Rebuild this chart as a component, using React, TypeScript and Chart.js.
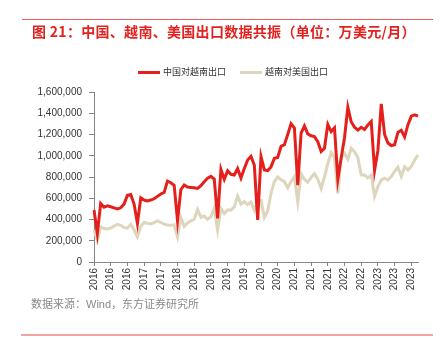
import React, { useEffect, useRef } from "react";
import { Chart, registerables } from "chart.js";

Chart.register(...registerables);

// ---- data (万美元/月), monthly from 2016-01 ----
const START_YEAR = 2016;
const MONTH_COUNT = 98;
const months: string[] = Array.from(
  { length: MONTH_COUNT },
  (_, i) => `${START_YEAR + Math.floor(i / 12)}-${String((i % 12) + 1).padStart(2, "0")}`
);

const seriesNames = ["中国对越南出口", "越南对美国出口"];

const chinaToVietnam = [
  490000, 268000, 551000, 515000, 528000, 520000, 510000, 500000, 510000, 545000, 628000, 636000,
  545000, 363000, 604000, 583000, 575000, 583000, 595000, 618000, 640000, 655000, 762000, 746000,
  722000, 390000, 680000, 725000, 706000, 702000, 698000, 693000, 718000, 756000, 788000, 806000,
  780000, 410000, 872000, 778000, 858000, 825000, 819000, 880000, 790000, 880000, 960000, 995000,
  910000, 396000, 992000, 866000, 860000, 895000, 977000, 984000, 1088000, 1104000, 1200000, 1302000,
  1260000, 724000, 1213000, 1280000, 1206000, 1188000, 1180000, 1133000, 1040000, 1071000, 1295000, 1228000,
  1262000, 780000, 980000, 1170000, 1456000, 1320000, 1268000, 1242000, 1268000, 1248000, 1290000, 1322000,
  862000, 1050000, 1488000, 1200000, 1120000, 1096000, 1104000, 1222000, 1240000, 1178000, 1292000, 1372000,
  1385000, 1372000,
];

const vietnamToUS = [
  300000, 205000, 331000, 315000, 310000, 320000, 338000, 355000, 345000, 325000, 318000, 355000,
  305000, 236000, 335000, 372000, 365000, 358000, 370000, 388000, 372000, 356000, 348000, 347000,
  350000, 236000, 420000, 335000, 368000, 387000, 402000, 495000, 420000, 432000, 402000, 425000,
  505000, 300000, 505000, 457000, 492000, 488000, 519000, 620000, 545000, 567000, 540000, 565000,
  488000, 560000, 578000, 420000, 480000, 646000, 756000, 800000, 775000, 756000, 700000, 756000,
  803000, 567000, 830000, 778000, 750000, 797000, 830000, 778000, 693000, 800000, 929000, 1029000,
  980000, 646000, 980000, 1024000, 967000, 1071000, 1039000, 980000, 819000, 819000, 790000, 819000,
  618000, 710000, 772000, 788000, 772000, 805000, 852000, 893000, 805000, 897000, 866000, 900000,
  960000, 1008000,
];

const Y_MIN = 0;
const Y_MAX = 1600000;
const Y_STEP = 200000;
const X_TICK_EVERY = 5;

const TITLE = "图 21：中国、越南、美国出口数据共振（单位：万美元/月）";
const SOURCE = "数据来源：Wind，东方证券研究所";

const RED = "#e41f1c";
const BEIGE = "#ded5bd";
const AXIS = "#858585";
const seriesColors = [RED, BEIGE];

export default function App() {
  const ref = useRef<HTMLCanvasElement>(null);

  useEffect(() => {
    if (!ref.current) return;
    const chart = new Chart(ref.current, {
      type: "line",
      data: {
        labels: months,
        datasets: [
          {
            label: seriesNames[0],
            data: chinaToVietnam,
            borderColor: RED,
            backgroundColor: RED,
            borderWidth: 3,
            pointRadius: 0,
            tension: 0,
          },
          {
            label: seriesNames[1],
            data: vietnamToUS,
            borderColor: BEIGE,
            backgroundColor: BEIGE,
            borderWidth: 3,
            pointRadius: 0,
            tension: 0,
          },
        ],
      },
      options: {
        animation: false,
        responsive: false,
        devicePixelRatio: 1,
        layout: { padding: { top: 92, left: 0, right: 26, bottom: 60 } },
        plugins: {
          legend: { display: false },
          tooltip: { enabled: false },
          title: { display: false },
        },
        scales: {
          x: {
            type: "category",
            offset: false,
            grid: {
              display: true,
              drawOnChartArea: false,
              drawTicks: true,
              tickLength: 4,
              color: AXIS,
              tickColor: AXIS,
            },
            border: { color: AXIS, width: 1 },
            ticks: {
              autoSkip: false,
              maxRotation: 90,
              minRotation: 90,
              padding: 2,
              color: "#333333",
              font: { family: "'Liberation Sans', Arial, sans-serif", size: 10 },
              callback: (v: any) => months[Number(v)].slice(0, 4),
            },
            afterBuildTicks: (s: any) => {
              s.ticks = s.ticks.filter((_t: any, i: number) => i % X_TICK_EVERY === 0);
            },
            afterFit: (s: any) => {
              s.height = 30;
            },
          },
          y: {
            min: Y_MIN,
            max: Y_MAX,
            grid: {
              display: true,
              drawOnChartArea: false,
              drawTicks: true,
              tickLength: 5,
              color: AXIS,
              tickColor: AXIS,
            },
            border: { color: AXIS, width: 1 },
            ticks: {
              stepSize: Y_STEP,
              padding: 7,
              color: "#333333",
              font: { family: "'Liberation Sans', Arial, sans-serif", size: 10 },
              callback: (v: any) => Number(v).toLocaleString("en-US"),
            },
            afterFit: (s: any) => {
              s.width = 94;
            },
          },
        },
      },
    });
    return () => chart.destroy();
  }, []);

  return (
    <div
      style={{
        position: "absolute",
        left: 0,
        top: 0,
        width: 444,
        height: 352,
        background: "#ffffff",
        overflow: "hidden",
      }}
    >
      <canvas
        ref={ref}
        width={444}
        height={352}
        style={{ position: "absolute", left: 0, top: 0, width: 444, height: 352, display: "block" }}
      />
      <div style={{ position: "absolute", left: 22, top: 19, width: 411, height: 1, background: "#ee5a5a" }} />
      <div
        style={{
          position: "absolute",
          left: 32,
          top: 23,
          whiteSpace: "nowrap",
          fontFamily: "'Noto Sans CJK SC', sans-serif",
          fontWeight: 700,
          fontSize: 14,
          letterSpacing: "0.3px",
          lineHeight: "16px",
          color: "#e3211f",
        }}
      >
        {TITLE}
      </div>
      {seriesNames.map((name, i) => (
        <div
          key={name}
          style={{
            position: "absolute",
            left: i === 0 ? 138 : 240,
            top: 65,
            height: 14,
            display: "flex",
            alignItems: "center",
            whiteSpace: "nowrap",
          }}
        >
          <div style={{ width: 22, height: 3, background: seriesColors[i], marginRight: 3 }} />
          <span
            style={{
              fontFamily: "'Noto Sans CJK SC', sans-serif",
              fontSize: 9,
              lineHeight: "14px",
              color: "#333333",
            }}
          >
            {name}
          </span>
        </div>
      ))}
      <div
        style={{
          position: "absolute",
          left: 31,
          top: 296,
          whiteSpace: "nowrap",
          fontFamily: "'Liberation Sans', 'Noto Sans CJK SC', sans-serif",
          fontSize: 11,
          lineHeight: "16px",
          color: "#8a8a8a",
        }}
      >
        {SOURCE}
      </div>
      <div style={{ position: "absolute", left: 21, top: 334, width: 412, height: 2, background: "#f3a3a3" }} />
    </div>
  );
}
